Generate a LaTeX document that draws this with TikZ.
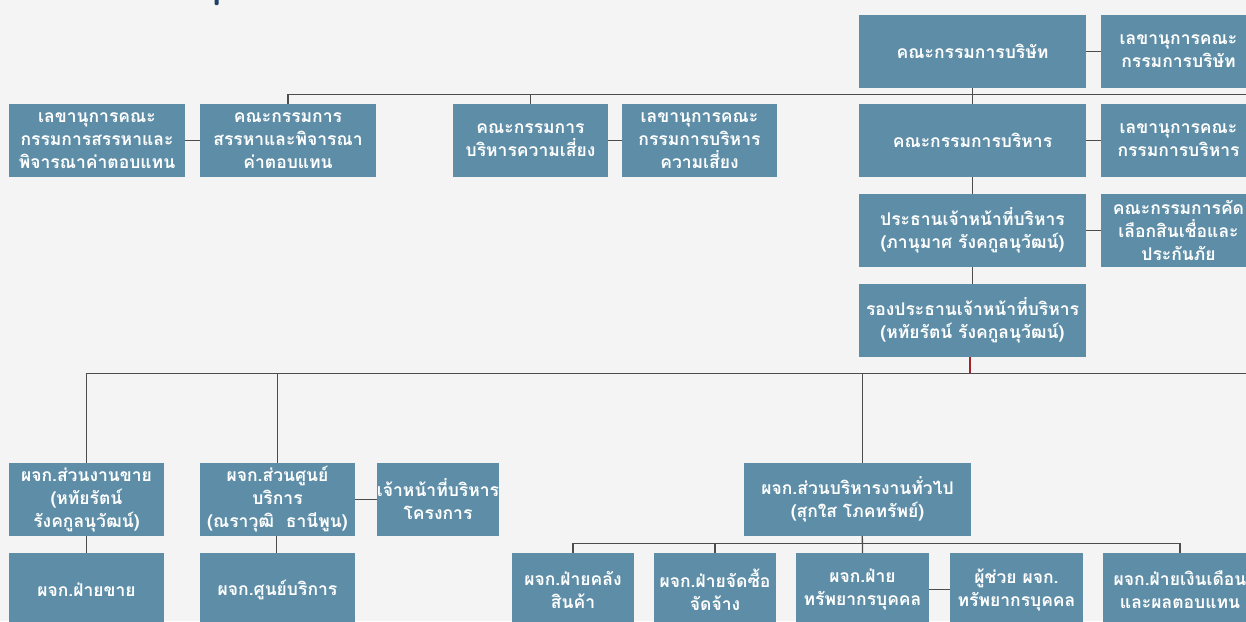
\documentclass[tikz,border=0pt]{standalone}
\usepackage{fontspec}
\newfontfamily\thaifont[Script=Thai]{Loma}
\definecolor{boxblue}{HTML}{5E8EA7}
\definecolor{bgcol}{HTML}{F3F4F3}
\definecolor{linecol}{HTML}{4D4D4D}
\definecolor{redline}{HTML}{A0242A}
\definecolor{navy}{HTML}{1F3F6B}
\begin{document}
\begin{tikzpicture}[x=1pt,y=-1pt,
  orgbox/.style={fill=boxblue,text=white,align=center,inner sep=0pt,
    minimum height=73pt,font=\thaifont\bfseries\fontsize{17.5}{23}\selectfont},
  wA/.style={orgbox,minimum width=227pt},
  wB/.style={orgbox,minimum width=176pt},
  wC/.style={orgbox,minimum width=155pt},
  wD/.style={orgbox,minimum width=122pt},
  wE/.style={orgbox,minimum width=133pt},
  conn/.style={draw=linecol,line width=1.3pt}]
\useasboundingbox (0,0) rectangle (1246,621);
\clip (0,0) rectangle (1246,621);
\fill[bgcol] (0,0) rectangle (1246,621);
\fill[navy,rounded corners=1pt] (214.5,-2) rectangle (218.5,5);

% nodes
\node[wA] (board) at (972.5,51.5) {คณะกรรมการบริษัท};
\node[wC] (secBoard) at (1178.5,51.5) {เลขานุการคณะ\\กรรมการบริษัท};
\node[wB] (nomSec) at (97,140.5) {เลขานุการคณะ\\กรรมการสรรหาและ\\พิจารณาค่าตอบแทน};
\node[wB] (nom) at (288,140.5) {คณะกรรมการ\\สรรหาและพิจารณา\\ค่าตอบแทน};
\node[wC] (risk) at (530.5,140.5) {คณะกรรมการ\\บริหารความเสี่ยง};
\node[wC] (riskSec) at (699.5,140.5) {เลขานุการคณะ\\กรรมการบริหาร\\ความเสี่ยง};
\node[wA] (exec) at (972.5,140.5) {คณะกรรมการบริหาร};
\node[wC] (execSec) at (1178.5,140.5) {เลขานุการคณะ\\กรรมการบริหาร};
\node[wA] (ceo) at (972.5,230.5) {ประธานเจ้าหน้าที่บริหาร\\(ภานุมาศ รังคกูลนุวัฒน์)};
\node[wC] (credit) at (1178.5,230.5) {คณะกรรมการคัด\\เลือกสินเชื่อและ\\ประกันภัย};
\node[wA] (vp) at (972.5,320.5) {รองประธานเจ้าหน้าที่บริหาร\\(หทัยรัตน์ รังคกูลนุวัฒน์)};
\node[wC] (sales) at (86.5,499.5) {ผจก.ส่วนงานขาย\\(หทัยรัตน์\\รังคกูลนุวัฒน์)};
\node[wC] (svc) at (277.5,499.5) {ผจก.ส่วนศูนย์\\บริการ\\(ณราวุฒิ~~ธานีพูน)};
\node[wD] (proj) at (438,499.5) {เจ้าหน้าที่บริหาร\\โครงการ};
\node[wA] (gen) at (857.5,499.5) {ผจก.ส่วนบริหารงานทั่วไป\\(สุกใส โภคทรัพย์)};
\node[wC] (salesDept) at (86.5,589.5) {ผจก.ฝ่ายขาย};
\node[wC] (svcDept) at (277.5,589.5) {ผจก.ศูนย์บริการ};
\node[wD] (wh) at (573,589.5) {ผจก.ฝ่ายคลัง\\สินค้า};
\node[wD] (pur) at (715,589.5) {ผจก.ฝ่ายจัดซื้อ\\จัดจ้าง};
\node[wE] (hr) at (862.5,589.5) {ผจก.ฝ่าย\\ทรัพยากรบุคคล};
\node[wE] (hrAsst) at (1016.5,589.5) {ผู้ช่วย ผจก.\\ทรัพยากรบุคคล};
\node[orgbox,minimum width=154pt] (pay) at (1180,589.5) {ผจก.ฝ่ายเงินเดือน\\และผลตอบแทน};

% bus coordinates
\coordinate (busA) at (1250,94.3);
\coordinate (busB) at (1250,373.3);

% connectors
\draw[conn] (board.east) -- (secBoard.west);
\draw[conn] (board.south) -- (exec.north);
\draw[conn] (nom.north) |- (busA);
\draw[conn] (risk.north) -- (risk.north |- busA);
\draw[conn] (nom.west) -- (nomSec.east);
\draw[conn] (risk.east) -- (riskSec.west);
\draw[conn] (exec.east) -- (execSec.west);
\draw[conn] (exec.south) -- (ceo.north);
\draw[conn] (ceo.east) -- (credit.west);
\draw[conn] (ceo.south) -- (vp.north);
\draw[draw=redline,line width=1.3pt] ([xshift=-2.5pt]vp.south) -- ([xshift=-2.5pt]vp.south |- busB);
\draw[conn] (sales.north) |- (busB);
\draw[conn] (svc.north) -- (svc.north |- busB);
\draw[conn] ([xshift=4.8pt]gen.north) -- ([xshift=4.8pt]gen.north |- busB);
\draw[conn] (sales.south) -- (salesDept.north);
\draw[conn] ([xshift=-0.8pt]svc.south) -- ([xshift=-0.8pt]svcDept.north);
\draw[conn] (svc.east) -- (proj.west);
\coordinate (busC) at (862.3,543.3);
\draw[conn] ([xshift=4.8pt]gen.south) -- (hr.north);
\draw[conn] (wh.north) |- (busC) -| (pay.north);
\draw[conn] (pur.north) -- (pur.north |- busC);
\draw[conn] (hr.east) -- (hrAsst.west);
\end{tikzpicture}
\end{document}
